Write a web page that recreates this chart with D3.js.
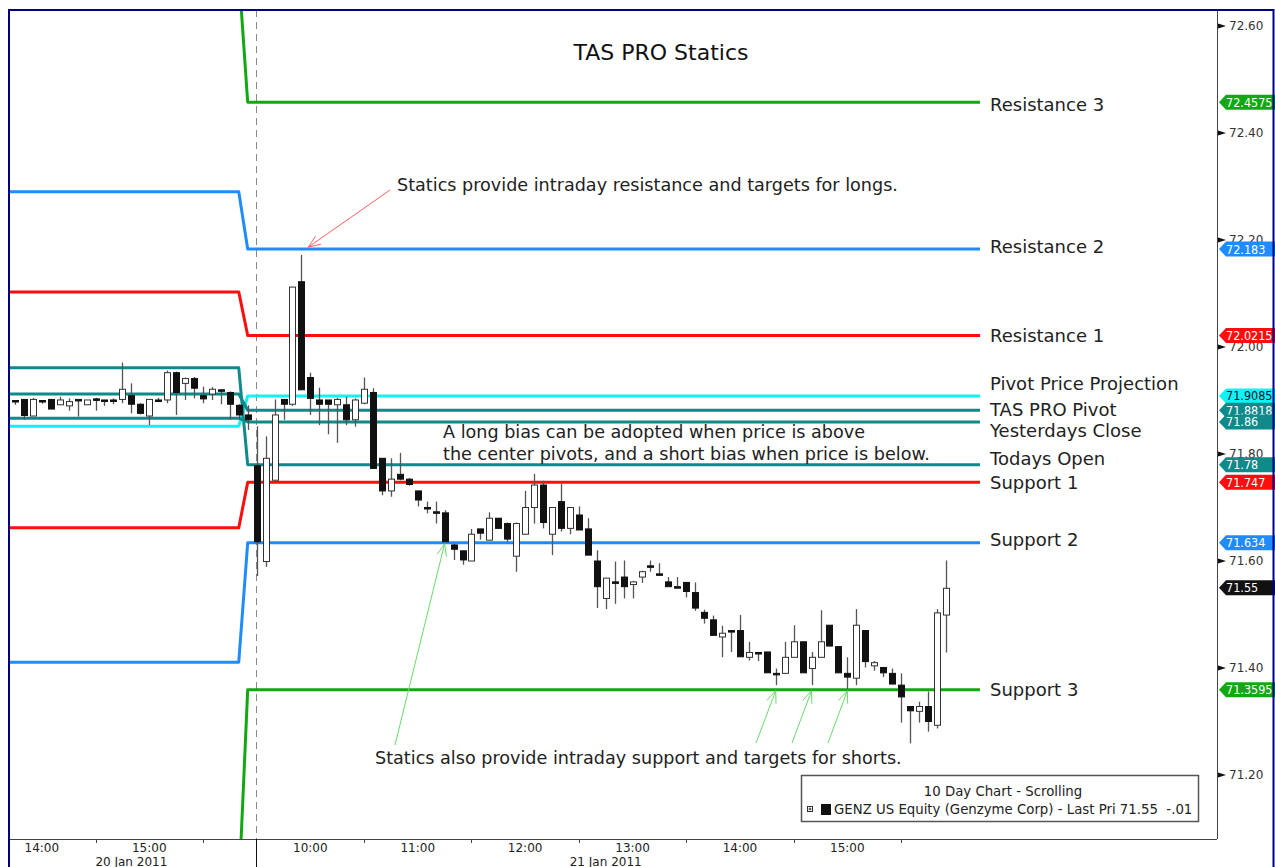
<!DOCTYPE html>
<html>
<head>
<meta charset="utf-8">
<script src="https://cdn.jsdelivr.net/npm/d3@7"></script>
<style>
    body { margin: 0; background: #fff; }
    svg text { font-family: "DejaVu Sans", sans-serif; }
    svg text.narrow { font-family: "DejaVu Sans Condensed", "DejaVu Sans", sans-serif; font-stretch: condensed; }
</style>
</head>
<body>
<svg id="chart" width="1275" height="867"></svg>
<script>
// 5 minute bars, [open, high, low, close]
// 20 Jan 2011, from 13:45
var day1Bars = [
    [71.900, 71.901, 71.892, 71.900], [71.902, 71.902, 71.864, 71.872], [71.871, 71.905, 71.871, 71.902],
    [71.900, 71.900, 71.894, 71.900], [71.902, 71.903, 71.884, 71.884], [71.892, 71.907, 71.892, 71.901],
    [71.890, 71.904, 71.881, 71.898], [71.902, 71.902, 71.870, 71.902], [71.892, 71.901, 71.892, 71.901],
    [71.903, 71.905, 71.881, 71.903], [71.901, 71.901, 71.890, 71.901], [71.901, 71.904, 71.893, 71.901],
    [71.902, 71.971, 71.895, 71.921], [71.909, 71.932, 71.876, 71.893], [71.893, 71.895, 71.874, 71.876],
    [71.871, 71.902, 71.854, 71.902], [71.901, 71.905, 71.897, 71.899], [71.901, 71.956, 71.895, 71.952],
    [71.952, 71.954, 71.873, 71.915], [71.932, 71.943, 71.901, 71.941], [71.941, 71.944, 71.904, 71.923],
    [71.909, 71.926, 71.895, 71.903], [71.912, 71.925, 71.901, 71.921], [71.920, 71.921, 71.893, 71.920],
    [71.915, 71.917, 71.864, 71.893], [71.891, 71.893, 71.865, 71.873], [71.873, 71.891, 71.845, 71.864]
];
// 21 Jan 2011, from 09:30
var day2Bars = [
    [71.778, 71.852, 71.572, 71.636], [71.599, 71.833, 71.589, 71.792], [71.751, 71.902, 71.751, 71.873],
    [71.902, 71.902, 71.864, 71.893], [71.893, 72.112, 71.890, 72.112], [72.122, 72.172, 71.920, 71.920],
    [71.943, 71.952, 71.873, 71.904], [71.901, 71.924, 71.854, 71.893], [71.901, 71.901, 71.837, 71.893],
    [71.892, 71.905, 71.821, 71.902], [71.892, 71.907, 71.854, 71.864], [71.864, 71.904, 71.851, 71.901],
    [71.895, 71.943, 71.893, 71.921], [71.915, 71.923, 71.773, 71.773], [71.792, 71.792, 71.723, 71.731],
    [71.731, 71.792, 71.720, 71.753], [71.762, 71.802, 71.751, 71.753], [71.753, 71.755, 71.741, 71.743],
    [71.731, 71.731, 71.702, 71.714], [71.700, 71.711, 71.689, 71.700], [71.692, 71.711, 71.670, 71.692],
    [71.690, 71.695, 71.636, 71.636], [71.630, 71.632, 71.602, 71.622], [71.619, 71.619, 71.593, 71.602],
    [71.600, 71.660, 71.600, 71.650], [71.660, 71.660, 71.640, 71.652], [71.639, 71.691, 71.639, 71.680],
    [71.680, 71.680, 71.661, 71.661], [71.670, 71.672, 71.636, 71.641], [71.609, 71.672, 71.580, 71.670],
    [71.650, 71.731, 71.650, 71.700], [71.700, 71.763, 71.670, 71.742], [71.742, 71.750, 71.661, 71.672],
    [71.650, 71.700, 71.611, 71.700], [71.711, 71.744, 71.655, 71.661], [71.661, 71.700, 71.650, 71.700],
    [71.686, 71.702, 71.658, 71.658], [71.660, 71.680, 71.611, 71.611], [71.600, 71.620, 71.512, 71.552],
    [71.530, 71.568, 71.510, 71.568], [71.561, 71.599, 71.520, 71.561], [71.570, 71.601, 71.530, 71.552],
    [71.556, 71.563, 71.530, 71.561], [71.570, 71.582, 71.559, 71.580], [71.591, 71.601, 71.580, 71.591],
    [71.576, 71.596, 71.576, 71.576], [71.561, 71.570, 71.552, 71.552], [71.552, 71.570, 71.552, 71.552],
    [71.560, 71.561, 71.532, 71.543], [71.541, 71.560, 71.507, 71.512], [71.504, 71.509, 71.483, 71.493],
    [71.490, 71.498, 71.461, 71.461], [71.458, 71.479, 71.420, 71.465], [71.470, 71.470, 71.430, 71.470],
    [71.470, 71.499, 71.421, 71.421], [71.420, 71.449, 71.414, 71.429], [71.429, 71.430, 71.413, 71.429],
    [71.430, 71.430, 71.391, 71.391], [71.390, 71.399, 71.368, 71.390], [71.390, 71.449, 71.390, 71.420],
    [71.420, 71.480, 71.420, 71.449], [71.449, 71.449, 71.391, 71.391], [71.399, 71.430, 71.368, 71.420],
    [71.420, 71.508, 71.420, 71.449], [71.480, 71.480, 71.441, 71.441], [71.440, 71.440, 71.391, 71.391],
    [71.390, 71.420, 71.360, 71.383], [71.381, 71.510, 71.368, 71.480], [71.470, 71.470, 71.401, 71.412],
    [71.404, 71.413, 71.395, 71.410], [71.401, 71.402, 71.383, 71.391], [71.390, 71.399, 71.370, 71.370],
    [71.368, 71.390, 71.298, 71.346], [71.328, 71.328, 71.259, 71.320], [71.319, 71.337, 71.298, 71.328],
    [71.328, 71.356, 71.281, 71.300], [71.293, 71.510, 71.287, 71.503], [71.499, 71.601, 71.429, 71.549]
];
var sessionStarts = ["13:45", "09:30"];
var sessionDates = ["20 Jan 2011", "21 Jan 2011"];

// TAS PRO statics, previous day and current day
var staticNames = ["Resistance 3", "Resistance 2", "Resistance 1", "Pivot Price Projection", "TAS PRO Pivot",
    "Yesterdays Close", "Todays Open", "Support 1", "Support 2", "Support 3"];
var staticDay1 = [72.700, 72.290, 72.103, 71.852, 71.912, 71.867, 71.961, 71.662, 71.411, 70.980];
var staticDay2 = [72.4575, 72.183, 72.0215, 71.9085, 71.8818, 71.86, 71.78, 71.747, 71.634, 71.3595];
var staticLabels = ["72.4575", "72.183", "72.0215", "71.9085", "71.8818", "71.86", "71.78", "71.747", "71.634", "71.3595"];
var lastPrice = 71.55;
var priceTicks = [72.60, 72.40, 72.20, 72.00, 71.80, 71.60, 71.40, 71.20];

// styles
var staticColours = ["#12a812", "#1e8cff", "#ff0d0d", "#12f2f2", "#0e8a8a", "#0e8a8a", "#0e8a8a", "#ff0d0d", "#1e8cff", "#12a812"];
var staticLabelShift = [2, -2, 0, -12, -1, 9, -6, 0, -3, 0];

var width = 1275,
    height = 867,
    plotLeft = 9,
    plotTop = 10,
    plotRight = 1217,
    plotBottom = 839,
    staticsEndX = 980;

// put both sessions in one run of bars
var bars = [];
function addSession(list, start, day) {
    var t = start.split(":");
    var mins = (+t[0]) * 60 + (+t[1]);
    list.forEach(function (b, i) {
        var m = mins + i * 5;
        bars.push({
            o: b[0], h: b[1], l: b[2], c: b[3], day: day,
            time: d3.format("02")(Math.floor(m / 60)) + ":" + d3.format("02")(m % 60)
        });
    });
}
addSession(day1Bars, sessionStarts[0], 0);
addSession(day2Bars, sessionStarts[1], 1);
var firstDay2 = day1Bars.length;

var x = d3.scaleLinear()
    .domain([-0.67, 134.3])
    .range([plotLeft, plotRight]);

var y = d3.scaleLinear()
    .domain([71.0804, 72.6299])
    .range([plotBottom, plotTop]);

var svg = d3.select("#chart");

svg.append("rect")
    .attr("width", width)
    .attr("height", height)
    .attr("fill", "#fff");

svg.append("clipPath")
    .attr("id", "plot-clip")
    .append("rect")
    .attr("x", plotLeft)
    .attr("y", plotTop)
    .attr("width", plotRight - plotLeft)
    .attr("height", plotBottom - plotTop);

var plot = svg.append("g").attr("clip-path", "url(#plot-clip)");

// session divider
var dividerX = Math.round(x(firstDay2 - 0.05)) + 0.5;
plot.append("line")
    .attr("x1", dividerX).attr("x2", dividerX)
    .attr("y1", plotTop).attr("y2", plotBottom)
    .attr("stroke", "#8a8a8a")
    .attr("stroke-width", 1)
    .attr("stroke-dasharray", "7,5");

// statics: step from yesterday's level to today's
var staticLine = d3.line();
staticNames.forEach(function (name, k) {
    var pts = [
        [plotLeft, y(staticDay1[k])],
        [x(firstDay2 - 2), y(staticDay1[k])],
        [x(firstDay2 - 1), y(staticDay2[k])],
        [staticsEndX, y(staticDay2[k])]
    ];
    plot.append("path")
        .attr("d", staticLine(pts))
        .attr("fill", "none")
        .attr("stroke", staticColours[k])
        .attr("stroke-width", 3)
        .attr("stroke-linejoin", "round");
});

// candles
var candle = plot.selectAll(".candle")
    .data(bars)
    .enter().append("g")
    .attr("class", "candle");

candle.append("line")
    .attr("x1", function (d, i) { return Math.round(x(i)) + 0.5; })
    .attr("x2", function (d, i) { return Math.round(x(i)) + 0.5; })
    .attr("y1", function (d) { return y(d.h); })
    .attr("y2", function (d) { return y(d.l); })
    .attr("stroke", "#555")
    .attr("stroke-width", 1.3);

candle.append("rect")
    .attr("x", function (d, i) { return Math.round(x(i)) - 2.5; })
    .attr("width", 6)
    .attr("y", function (d) { return y(Math.max(d.o, d.c)); })
    .attr("height", function (d) { return Math.max(1.5, Math.abs(y(d.o) - y(d.c))); })
    .attr("fill", function (d) { return d.c > d.o ? "#fff" : "#111"; })
    .attr("stroke", function (d) { return d.c > d.o ? "#333" : "#111"; })
    .attr("stroke-width", 1);

// statics labels
svg.selectAll(".static-label")
    .data(staticNames)
    .enter().append("text")
    .attr("class", "static-label")
    .attr("x", staticsEndX + 10)
    .attr("y", function (d, k) { return y(staticDay2[k]) + staticLabelShift[k]; })
    .attr("dy", "0.35em")
    .attr("font-size", 18)
    .attr("fill", "#222")
    .text(function (d) { return d; });

// title
svg.append("text")
    .attr("x", 661)
    .attr("y", 60)
    .attr("text-anchor", "middle")
    .attr("font-size", 22)
    .attr("fill", "#111")
    .text("TAS PRO Statics");

// annotations
function arrow(g, x1, y1, x2, y2, colour) {
    var a = Math.atan2(y1 - y2, x1 - x2), len = 13, spread = 0.38;
    g.append("line")
        .attr("x1", x1).attr("y1", y1).attr("x2", x2).attr("y2", y2)
        .attr("stroke", colour).attr("stroke-width", 1);
    [-spread, spread].forEach(function (s) {
        g.append("line")
            .attr("x1", x2).attr("y1", y2)
            .attr("x2", x2 + len * Math.cos(a + s))
            .attr("y2", y2 + len * Math.sin(a + s))
            .attr("stroke", colour).attr("stroke-width", 1);
    });
}

var notes = svg.append("g").attr("font-size", 17.6).attr("fill", "#222");
notes.append("text").attr("x", 397).attr("y", 191)
    .text("Statics provide intraday resistance and targets for longs.");
notes.append("text").attr("x", 443).attr("y", 438)
    .text("A long bias can be adopted when price is above");
notes.append("text").attr("x", 443).attr("y", 460)
    .text("the center pivots, and a short bias when price is below.");
notes.append("text").attr("x", 375).attr("y", 764)
    .text("Statics also provide intraday support and targets for shorts.");

arrow(svg, 390, 190, x(33) - 2, y(staticDay2[1]) - 2, "#ff6060");
arrow(svg, 395, 745, x(48), y(staticDay2[8]) + 1, "#6cd96c");
[[85, 756], [89, 792], [93, 828]].forEach(function (p) {
    arrow(svg, p[1], 743, x(p[0]), y(staticDay2[9]) + 1, "#6cd96c");
});

// right price axis
svg.append("line")
    .attr("x1", plotRight + 0.5).attr("x2", plotRight + 0.5)
    .attr("y1", plotTop).attr("y2", plotBottom)
    .attr("stroke", "#444");

var tick = svg.selectAll(".ptick")
    .data(priceTicks)
    .enter().append("g")
    .attr("class", "ptick")
    .attr("transform", function (d) { return "translate(" + (plotRight + 1) + "," + y(d) + ")"; });
tick.append("path")
    .attr("d", "M0,-2.5L8,0L0,2.5Z")
    .attr("fill", "#111");
tick.append("text")
    .attr("x", 11)
    .attr("dy", "0.35em")
    .attr("font-size", 12)
    .attr("fill", "#333")
    .text(function (d) { return d3.format(".2f")(d); });

// price flags
var flags = staticDay2.map(function (v, k) {
    return { v: v, label: staticLabels[k], fill: staticColours[k], text: k === 3 ? "#113" : "#fff" };
});
flags.push({ v: lastPrice, label: d3.format(".2f")(lastPrice), fill: "#111", text: "#fff" });

var flag = svg.selectAll(".flag")
    .data(flags)
    .enter().append("g")
    .attr("class", "flag")
    .attr("transform", function (d) { return "translate(" + (plotRight + 2) + "," + y(d.v) + ")"; });
flag.append("path")
    .attr("d", "M0,0L7,-7.5L58,-7.5L58,7.5L7,7.5Z")
    .attr("fill", function (d) { return d.fill; });
flag.append("text")
    .attr("class", "narrow")
    .attr("x", 7)
    .attr("dy", "0.36em")
    .attr("font-size", 12.5)
    .attr("fill", function (d) { return d.text; })
    .text(function (d) { return d.label; });

// time axis
svg.append("line")
    .attr("x1", plotLeft).attr("x2", plotRight)
    .attr("y1", plotBottom + 0.5).attr("y2", plotBottom + 0.5)
    .attr("stroke", "#444");

svg.append("line")
    .attr("x1", dividerX).attr("x2", dividerX)
    .attr("y1", plotBottom).attr("y2", height)
    .attr("stroke", "#111");

var hours = [], halves = [];
bars.forEach(function (b, i) {
    if (b.time.slice(3) === "00") hours.push(i);
    if (b.time.slice(3) === "30" && i !== firstDay2) halves.push(i);
});

svg.selectAll(".minor")
    .data(halves)
    .enter().append("line")
    .attr("x1", function (i) { return Math.round(x(i)) + 0.5; })
    .attr("x2", function (i) { return Math.round(x(i)) + 0.5; })
    .attr("y1", plotBottom)
    .attr("y2", plotBottom + 4)
    .attr("stroke", "#444");

svg.selectAll(".hour")
    .data(hours)
    .enter().append("text")
    .attr("x", function (i) { return x(i); })
    .attr("y", 852)
    .attr("text-anchor", "middle")
    .attr("font-size", 12)
    .attr("fill", "#222")
    .text(function (i) { return bars[i].time; });

svg.selectAll(".date")
    .data(sessionDates)
    .enter().append("text")
    .attr("x", function (d, k) { return k === 0 ? x(13) : x(firstDay2 + 39); })
    .attr("y", 866)
    .attr("text-anchor", "middle")
    .attr("font-size", 12)
    .attr("fill", "#222")
    .text(function (d) { return d; });

// legend
var legend = svg.append("g");
legend.append("rect")
    .attr("x", 801.5).attr("y", 775.5)
    .attr("width", 397).attr("height", 46)
    .attr("fill", "#fff")
    .attr("stroke", "#555")
    .attr("stroke-width", 1.5);
legend.append("text")
    .attr("x", 1003).attr("y", 796)
    .attr("text-anchor", "middle")
    .attr("font-size", 13.3)
    .attr("fill", "#222")
    .text("10 Day Chart - Scrolling");
legend.append("rect")
    .attr("x", 807.5).attr("y", 806.5).attr("width", 5).attr("height", 5)
    .attr("fill", "none").attr("stroke", "#333");
legend.append("path")
    .attr("d", "M808.5,809h3M810,807.5v3")
    .attr("stroke", "#333");
legend.append("rect")
    .attr("x", 821).attr("y", 804).attr("width", 10).attr("height", 11)
    .attr("fill", "#111");
legend.append("text")
    .attr("x", 834).attr("y", 814)
    .attr("font-size", 13.3)
    .attr("fill", "#222")
    .attr("xml:space", "preserve")
    .text("GENZ US Equity (Genzyme Corp) - Last Pri " + d3.format(".2f")(lastPrice) + "  -.01");

// outer frame
svg.append("path")
    .attr("d", "M" + plotLeft + "," + (height + 2) + "V" + plotTop + "H1273.5V" + (height + 2))
    .attr("fill", "none")
    .attr("stroke", "#000080")
    .attr("stroke-width", 2);
</script>
</body>
</html>
